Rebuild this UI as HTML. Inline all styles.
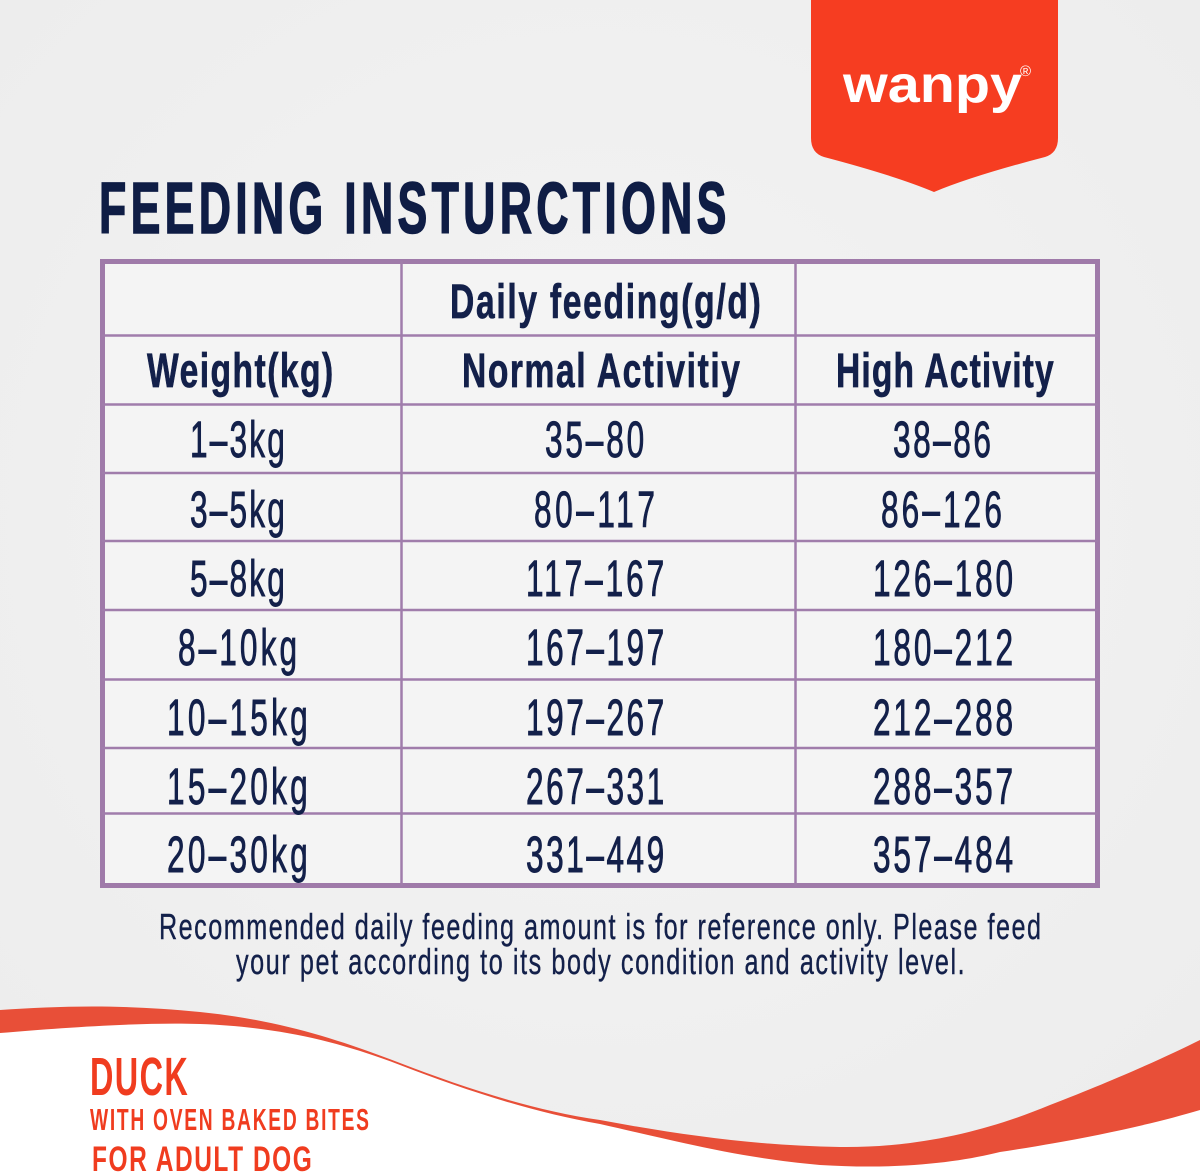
<!DOCTYPE html>
<html><head><meta charset="utf-8"><style>
html,body{margin:0;padding:0;background:#f0f0f0;}
svg{display:block;}
text{font-family:"Liberation Sans",sans-serif;}
</style></head><body>
<svg width="1200" height="1172" viewBox="0 0 1200 1172" xmlns="http://www.w3.org/2000/svg">
<defs>
<radialGradient id="bg" cx="0.5" cy="0.45" r="0.75">
<stop offset="0" stop-color="#f4f4f4"/><stop offset="1" stop-color="#ececec"/>
</radialGradient>
</defs>
<rect x="0" y="0" width="1200" height="1172" fill="url(#bg)"/>

<!-- logo -->
<path d="M811,0 L1058,0 L1058,138 Q1058,153 1045,157 Q972,176 934,192 Q896,176 824,157 Q811,153 811,138 Z" fill="#f63d21"/>
<text x="843" y="102" font-size="52" font-weight="bold" fill="#fff" textLength="179" lengthAdjust="spacingAndGlyphs">wanpy</text>
<text x="1020" y="76" font-size="15" fill="#fff">®</text>

<!-- title -->
<text transform="translate(99,233) scale(0.62,1)" x="0" y="0" font-size="72" font-weight="bold" fill="#0f1d45" stroke="#0f1d45" stroke-width="1.6" textLength="1012" lengthAdjust="spacing">FEEDING INSTURCTIONS</text>

<!-- table -->
<rect x="102.5" y="261.5" width="995" height="624" fill="#f4f4f4" stroke="#9f7aa9" stroke-width="5"/>
<g stroke="#a07dab" stroke-width="2.5">
<line x1="401.5" y1="261" x2="401.5" y2="886"/>
<line x1="795.5" y1="261" x2="795.5" y2="886"/>
<line x1="102" y1="335.5" x2="1098" y2="335.5"/>
<line x1="102" y1="404.5" x2="1098" y2="404.5"/>
<line x1="102" y1="473" x2="1098" y2="473"/>
<line x1="102" y1="541" x2="1098" y2="541"/>
<line x1="102" y1="610" x2="1098" y2="610"/>
<line x1="102" y1="679.5" x2="1098" y2="679.5"/>
<line x1="102" y1="748" x2="1098" y2="748"/>
<line x1="102" y1="813.5" x2="1098" y2="813.5"/>
</g>

<g font-weight="bold" font-size="48" fill="#13204a" stroke="#13204a" stroke-width="0.7">
<text transform="translate(450,318) scale(0.7,1)" textLength="444" lengthAdjust="spacing">Daily feeding(g/d)</text>
<text transform="translate(147,387) scale(0.7,1)" textLength="266" lengthAdjust="spacing">Weight(kg)</text>
<text transform="translate(462,387) scale(0.7,1)" textLength="397" lengthAdjust="spacing">Normal Activitiy</text>
<text transform="translate(836,387) scale(0.7,1)" textLength="311" lengthAdjust="spacing">High Activity</text>
</g>

<g font-size="51" fill="#13204a" stroke="#13204a" stroke-width="0.9">
<text transform="translate(190,457) scale(0.62,1)" textLength="153" lengthAdjust="spacing">1–3kg</text>
<text transform="translate(190,527) scale(0.62,1)" textLength="153" lengthAdjust="spacing">3–5kg</text>
<text transform="translate(190,596) scale(0.62,1)" textLength="153" lengthAdjust="spacing">5–8kg</text>
<text transform="translate(178,665) scale(0.62,1)" textLength="192" lengthAdjust="spacing">8–10kg</text>
<text transform="translate(167,735) scale(0.62,1)" textLength="227" lengthAdjust="spacing">10–15kg</text>
<text transform="translate(167,804) scale(0.62,1)" textLength="227" lengthAdjust="spacing">15–20kg</text>
<text transform="translate(167,872) scale(0.62,1)" textLength="227" lengthAdjust="spacing">20–30kg</text>

<text transform="translate(545,457) scale(0.62,1)" textLength="160" lengthAdjust="spacing">35–80</text>
<text transform="translate(534,527) scale(0.62,1)" textLength="195" lengthAdjust="spacing">80–117</text>
<text transform="translate(526,596) scale(0.62,1)" textLength="223" lengthAdjust="spacing">117–167</text>
<text transform="translate(526,665) scale(0.62,1)" textLength="223" lengthAdjust="spacing">167–197</text>
<text transform="translate(526,735) scale(0.62,1)" textLength="223" lengthAdjust="spacing">197–267</text>
<text transform="translate(526,804) scale(0.62,1)" textLength="223" lengthAdjust="spacing">267–331</text>
<text transform="translate(526,872) scale(0.62,1)" textLength="223" lengthAdjust="spacing">331–449</text>

<text transform="translate(893,457) scale(0.62,1)" textLength="158" lengthAdjust="spacing">38–86</text>
<text transform="translate(881,527) scale(0.62,1)" textLength="195" lengthAdjust="spacing">86–126</text>
<text transform="translate(873,596) scale(0.62,1)" textLength="226" lengthAdjust="spacing">126–180</text>
<text transform="translate(873,665) scale(0.62,1)" textLength="226" lengthAdjust="spacing">180–212</text>
<text transform="translate(873,735) scale(0.62,1)" textLength="226" lengthAdjust="spacing">212–288</text>
<text transform="translate(873,804) scale(0.62,1)" textLength="226" lengthAdjust="spacing">288–357</text>
<text transform="translate(873,872) scale(0.62,1)" textLength="226" lengthAdjust="spacing">357–484</text>
</g>

<!-- note -->
<g font-size="36" fill="#13204a" stroke="#13204a" stroke-width="0.4">
<text transform="translate(159,939) scale(0.7,1)" textLength="1260" lengthAdjust="spacing">Recommended daily feeding amount is for reference only. Please feed</text>
<text transform="translate(236,974) scale(0.7,1)" textLength="1041" lengthAdjust="spacing">your pet according to its body condition and activity level.</text>
</g>

<!-- bottom wave -->
<path d="M0,1010 C60,1006 120,1004 200,1012 C280,1020 340,1040 400,1063 C460,1086 530,1110 600,1120 C680,1135 760,1146 840,1147 C920,1148 990,1130 1050,1105 C1120,1078 1170,1055 1200,1040 L1200,1172 L0,1172 Z" fill="#e84f38"/>
<path d="M0,1033 C60,1028 140,1022 200,1024 C280,1027 340,1042 400,1065 C460,1088 530,1112 600,1124 C680,1142 740,1158 820,1165 C900,1170 960,1162 1000,1152 C1080,1140 1150,1125 1200,1110 L1200,1172 L0,1172 Z" fill="#ffffff"/>

<g fill="#f03c1f">
<text transform="translate(90,1095) scale(0.6,1)" font-size="54" font-weight="bold" textLength="163" lengthAdjust="spacing">DUCK</text>
<text transform="translate(90,1130) scale(0.62,1)" font-size="31" font-weight="bold" textLength="450" lengthAdjust="spacing">WITH OVEN BAKED BITES</text>
<text transform="translate(92,1171) scale(0.7,1)" font-size="35" font-weight="bold" textLength="314" lengthAdjust="spacing">FOR ADULT DOG</text>
</g>
</svg>
</body></html>
